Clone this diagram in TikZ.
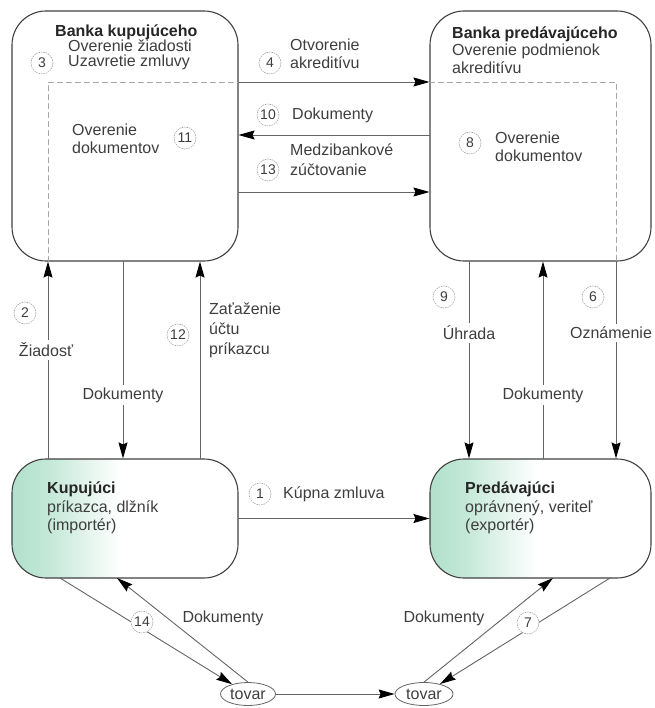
\documentclass[tikz,border=0pt]{standalone}
\usepackage{fontspec}
\setmainfont{Liberation Sans}
\usetikzlibrary{arrows.meta,shapes.geometric}

\definecolor{mint}{RGB}{176,224,203}
\definecolor{linegray}{RGB}{100,100,100}
\definecolor{boxgray}{RGB}{65,65,65}
\definecolor{txtgray}{RGB}{62,62,62}

\pgfdeclarehorizontalshading{mintfade}{100bp}{%
  color(0bp)=(mint); color(25bp)=(mint); color(33bp)=(mint!75);
  color(49bp)=(white); color(100bp)=(white)}

\begin{document}
\begin{tikzpicture}[
    x=1pt,y=-1pt,
    font=\fontsize{16}{18}\selectfont,
    line cap=round,
    line join=round,
    bank/.style={draw=boxgray, line width=1.1pt, rounded corners=34pt,
        fill=white, inner sep=0pt, minimum height=250pt, minimum width=#1},
    party/.style={draw=boxgray, line width=1.1pt, rounded corners=34pt,
        shade, shading=mintfade, inner sep=0pt, minimum height=119pt, minimum width=#1},
    goods/.style={ellipse, draw=linegray, line width=0.8pt, inner sep=0pt,
        minimum width=#1, minimum height=23pt, text=txtgray},
    flow/.style={draw=linegray, line width=0.9pt,
        -{Stealth[length=16pt,width=9pt,inset=2pt,color=black]}},
    frame/.style={draw=black!35, line width=0.9pt, dash pattern=on 5pt off 4pt},
    num/.style={circle, draw=black!35, line width=0.6pt, dash pattern=on 1.2pt off 1.2pt,
        inner sep=0pt, minimum size=22pt, text=txtgray, font=\fontsize{14}{14}\selectfont},
    lab/.style={text=txtgray, align=left, anchor=west, inner sep=0pt},
    onlin/.style={text=txtgray, fill=white, inner xsep=2pt, inner ysep=3pt},
    head/.style={text=black!85, font=\fontsize{16}{18}\selectfont\bfseries}
]
\useasboundingbox (0,0) rectangle (654,708);

\node[bank=226pt] (bk) at (125,136) {};
\node[bank=221pt] (bp) at (540.5,136) {};
\node[party=226pt] (kup) at (125,518.5) {};
\node[party=221pt] (pred) at (540.5,518.5) {};

\node[goods=55pt] (tl) at (248,694) {tovar};
\node[goods=58pt] (tr) at (424,694) {tovar};

\coordinate (y4) at (0,82);
\coordinate (y10) at (0,135);
\coordinate (y13) at (0,192);
\coordinate (x2) at (48,0);
\coordinate (xd) at (123,0);
\coordinate (x12) at (200,0);
\coordinate (x9) at (469,0);
\coordinate (xe) at (543,0);
\coordinate (x6) at (616,0);
\coordinate (ka) at (60,578);
\coordinate (kb) at (117,578);
\coordinate (pa) at (553,578);
\coordinate (pb) at (610,578);

\draw[frame] (bk.south -| x2) -- (x2 |- y4) -- (bk.east |- y4);
\draw[frame] (bp.west |- y4) -- (x6 |- y4) -- (bp.south -| x6);

\draw[flow] (bk.east |- y4) -- (bp.west |- y4);
\draw[flow] (bp.west |- y10) -- (bk.east |- y10);
\draw[flow] (bk.east |- y13) -- (bp.west |- y13);

\draw[flow] (kup.north -| x2) -- (bk.south -| x2);
\draw[flow] (bk.south -| xd) -- (kup.north -| xd);
\draw[flow] (kup.north -| x12) -- (bk.south -| x12);
\draw[flow] (bp.south -| x9) -- (pred.north -| x9);
\draw[flow] (pred.north -| xe) -- (bp.south -| xe);
\draw[flow] (bp.south -| x6) -- (pred.north -| x6);

\draw[flow] (kup) -- (pred);
\draw[flow] (ka) -- (tl);
\draw[flow] (tl.north) -- (kb);
\draw[flow] (tl) -- (tr);
\draw[flow] (tr.north) -- (pa);
\draw[flow] (pb) -- (tr);

\node[lab, head] (bkh) at (55,32) {Banka kupujúceho};
\node[lab, font=\fontsize{16}{15}\selectfont] (bkt) at (68,55) {Overenie žiadosti\\Uzavretie zmluvy};
\node[lab] (bkd) at (72,139) {Overenie\\dokumentov};
\node[lab, font=\fontsize{16}{17.5}\selectfont] (bpt) at (452,50)
    {\textbf{\color{black!85}Banka predávajúceho}\\Overenie podmienok\\akreditívu};
\node[lab] (bpd) at (495,147) {Overenie\\dokumentov};

\node[lab] (t4) at (290,54) {Otvorenie\\akreditívu};
\node[lab] (t10) at (292,115) {Dokumenty};
\node[lab, font=\fontsize{16}{20}\selectfont] (t13) at (290,160) {Medzibankové\\zúčtovanie};
\node[lab] (t1) at (283,494) {Kúpna zmluva};
\node[lab, font=\fontsize{16}{20}\selectfont] (t12) at (209,330) {Zaťaženie\\účtu\\príkazcu};

\node[lab, font=\fontsize{16}{18.5}\selectfont] (kupt) at (47,508)
    {\textbf{\color{black!85}Kupujúci}\\príkazca, dlžník\\(importér)};
\node[lab, font=\fontsize{16}{18.5}\selectfont] (predt) at (465,508)
    {\textbf{\color{black!85}Predávajúci}\\oprávnený, veriteľ\\(exportér)};

\node[onlin] (t2) at (46,350) {Žiadosť};
\node[onlin] (tdl) at (123,395) {Dokumenty};
\node[onlin] (t9) at (469,333) {Úhrada};
\node[onlin] (tdr) at (543,395) {Dokumenty};
\node[onlin] (t6) at (611,333) {Oznámenie};
\node[text=txtgray] (t14) at (223,618) {Dokumenty};
\node[text=txtgray] (t7) at (444,618) {Dokumenty};

\foreach \n/\px/\py in {1/260/494, 2/25/313, 3/42/63, 4/270/63, 6/593/297, 7/528/623,
    8/470/143, 9/444/297, 10/268/115, 11/185/138, 12/178/335, 13/268/170, 14/142/622} {
    \node[num, fill=white] (n\n) at (\px,\py) {\n};
}
\end{tikzpicture}
\end{document}
